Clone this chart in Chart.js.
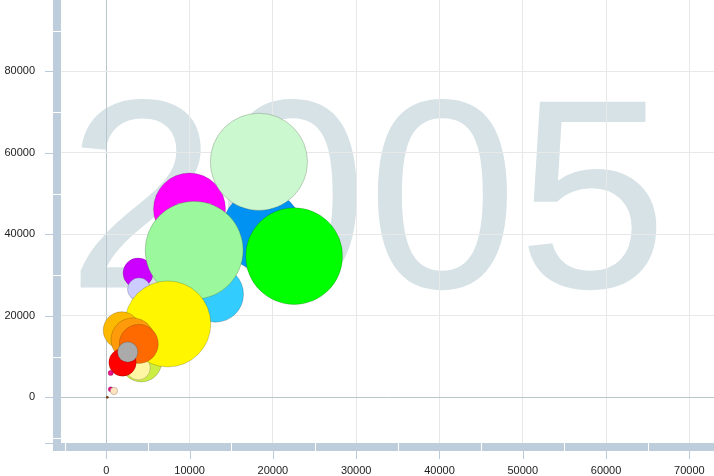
<!DOCTYPE html>
<html><head><meta charset="utf-8">
<script src="https://cdn.jsdelivr.net/npm/chart.js@4/dist/chart.umd.min.js"></script>
<style>html,body{margin:0;padding:0;background:#fff;overflow:hidden}#wrap{width:714px;height:476px;position:relative}</style>
</head><body><div id="wrap"><canvas id="c" width="714" height="476"></canvas></div>
<script>
// ---- data ----
const yearLabel = '2005';
const xValues = [18690, 9990, 18320, 3810, 3930, 13110, 22550, 10550, 4190, 3840, 7380, 1850, 3170, 3900, 1950, 2570, 530, 530, 920, 120];
const yValues = [41000, 46200, 57800, 30500, 26500, 25300, 34650, 36100, 8800, 7200, 18000, 16450, 14150, 13100, 8550, 11100, 5970, 1970, 1550, 0];
const bubbleSize = [40, 36, 48.6, 15, 11.5, 28, 48.4, 49, 20.5, 12, 43, 18.5, 21.7, 19.5, 13.7, 10.2, 2.6, 2.5, 3.7, 1.2];
const bubbleColors = ['#0092f2', '#ff00ff', '#ccf8cf', '#cc00ff', '#ccccff', '#33ccff', '#00ff00', '#9cf89c', '#ccee44', '#fff6a3', '#fff600', '#fdb900', '#ff9a0a', '#ff6a00', '#ff0000', '#aaaaaa', '#ee1188', '#ee1188', '#fde4c0', '#8b4513'];
const xTickValues = [0, 10000, 20000, 30000, 40000, 50000, 60000, 70000];
const yTickValues = [0, 20000, 40000, 60000, 80000];
const xMinorValues = [-5000, 5000, 15000, 25000, 35000, 45000, 55000, 65000];
const yMinorValues = [-10000, 10000, 30000, 50000, 70000, 90000];
const xRange = [-5440, 72960];
const yRange = [-11230, 97540];

const gridColor = '#e8e8e8';
const zeroColor = '#b6c6cc';
const barColor = '#bdcddc';
const tickMarkColor = '#bccbd9';

const decor = {
  id: 'decor',
  beforeDraw(chart) {
    const {ctx, chartArea: a} = chart;
    ctx.save();
    ctx.fillStyle = '#fff';
    ctx.fillRect(0, 0, chart.width, chart.height);
    ctx.beginPath();
    ctx.rect(a.left, a.top, a.right - a.left, a.bottom - a.top);
    ctx.clip();
    ctx.font = '270px "Liberation Sans", Arial, sans-serif';
    ctx.fillStyle = '#d6e2e6';
    ctx.textBaseline = 'alphabetic';
    ctx.textAlign = 'left';
    ctx.fillText(yearLabel, a.left + 6, a.top + 287.5);
    ctx.restore();
  },
  afterDraw(chart) {
    const {ctx, chartArea: a, scales: {x, y}} = chart;
    ctx.save();
    ctx.fillStyle = barColor;
    ctx.fillRect(a.left - 8, a.top, 8, a.bottom - a.top + 8);
    ctx.fillRect(a.left - 8, a.bottom, a.right - a.left + 8, 8);
    ctx.fillStyle = '#fff';
    yMinorValues.forEach(v => {
      const p = Math.round(y.getPixelForValue(v));
      if (p > a.top && p < a.bottom) ctx.fillRect(a.left - 8, p, 8, 1);
    });
    xMinorValues.forEach(v => {
      const p = Math.round(x.getPixelForValue(v));
      if (p > a.left && p < a.right) ctx.fillRect(p, a.bottom, 1, 8);
    });
    ctx.strokeStyle = tickMarkColor;
    ctx.lineWidth = 1;
    ctx.beginPath();
    yTickValues.forEach(v => {
      const p = Math.round(y.getPixelForValue(v)) + 0.5;
      ctx.moveTo(a.left - 16, p); ctx.lineTo(a.left - 8, p);
    });
    ctx.moveTo(a.left - 16, Math.round(a.bottom) + 0.5); ctx.lineTo(a.left - 8, Math.round(a.bottom) + 0.5);
    xTickValues.forEach(v => {
      const p = Math.round(x.getPixelForValue(v)) + 0.5;
      ctx.moveTo(p, a.bottom + 8); ctx.lineTo(p, a.bottom + 16);
    });
    ctx.stroke();
    ctx.restore();
  }
};

const fitY = s => { s.width = 61; s.paddingTop = 0; s.paddingBottom = 0; s.paddingLeft = 0; s.paddingRight = 0; };
const fitX = s => { s.height = 33; s.paddingTop = 0; s.paddingBottom = 0; s.paddingLeft = 0; s.paddingRight = 0; };
const gridCol = c => (c.tick && c.tick.value === 0) ? zeroColor : gridColor;
const font = {family: '"Liberation Sans", Arial, sans-serif', size: 11};

new Chart(document.getElementById('c'), {
  type: 'bubble',
  data: {
    datasets: [{
      data: xValues.map((v, i) => ({x: v, y: yValues[i], r: bubbleSize[i]})),
      backgroundColor: bubbleColors,
      borderColor: 'rgba(0,0,0,0.18)',
      borderWidth: 1,
      hoverRadius: 0
    }]
  },
  options: {
    responsive: false,
    animation: false,
    devicePixelRatio: 1,
    events: [],
    layout: {padding: 0, autoPadding: false},
    plugins: {legend: {display: false}, tooltip: {enabled: false}},
    scales: {
      x: {
        type: 'linear', position: 'bottom', min: xRange[0], max: xRange[1],
        afterFit: fitX,
        afterBuildTicks: s => { s.ticks = xTickValues.map(v => ({value: v})); },
        border: {display: false},
        grid: {color: gridCol, drawTicks: false, lineWidth: 1},
        ticks: {autoSkip: false, maxRotation: 0, minRotation: 0, padding: 21,
          color: '#222', font, callback: v => String(v)}
      },
      y: {
        type: 'linear', position: 'left', min: yRange[0], max: yRange[1],
        afterFit: fitY,
        afterBuildTicks: s => { s.ticks = yTickValues.map(v => ({value: v})); },
        border: {display: false},
        grid: {color: gridCol, drawTicks: false, lineWidth: 1},
        ticks: {autoSkip: false, padding: 26, color: '#222', font, callback: v => String(v)}
      }
    }
  },
  plugins: [decor]
});
</script></body></html>
